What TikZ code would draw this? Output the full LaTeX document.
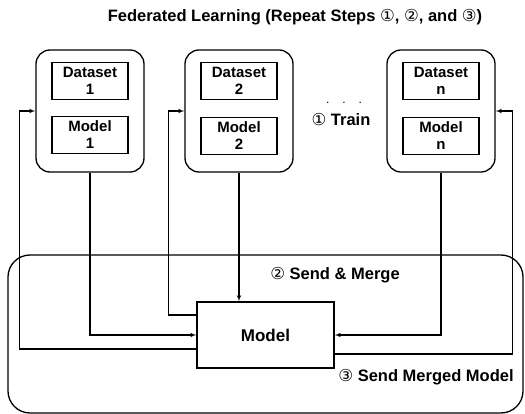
\documentclass[tikz,border=0pt]{standalone}
\usepackage{fontspec}
\setmainfont{Liberation Sans}
\newfontfamily\circfont{DejaVu Sans}
\usetikzlibrary{shapes, arrows}

\newcommand{\stepno}[1]{{\circfont\mdseries #1}}

\begin{document}
\begin{tikzpicture}[x=1pt, y=-1pt, font=\bfseries]

\tikzstyle{connector} = [draw, line width=1.1pt, -latex']
\tikzstyle{client} = [rectangle, draw, line width=1.3pt, rounded corners=14pt, minimum width=108pt, minimum height=122pt]
\tikzstyle{part} = [rectangle, draw, line width=1.2pt, text centered, align=center, minimum width=76pt, minimum height=37pt, inner sep=1pt, font=\bfseries\fontsize{15}{17}\selectfont]
\tikzstyle{server} = [rectangle, draw, line width=1.3pt, rounded corners=22pt, minimum width=515pt, minimum height=158pt]
\tikzstyle{merged} = [rectangle, draw, line width=1.2pt, text centered, minimum width=137pt, minimum height=66pt, font=\bfseries\fontsize{17}{20}\selectfont]
\tikzstyle{label} = [draw=none, font=\bfseries\fontsize{16.5}{19}\selectfont]

\useasboundingbox (0,0) rectangle (525,414);

\node [label] at (295,17) (title) {Federated Learning (Repeat Steps \stepno{①}, \stepno{②}, and \stepno{③})};

\node [client] at (90,111) (client1) {};
\node [part] at (90,81) (data1) {Dataset\\1};
\node [part] at (90,135) (model1) {Model\\1};

\node [client] at (239,111) (client2) {};
\node [part] at (239,81) (data2) {Dataset\\2};
\node [part] at (239,136) (model2) {Model\\2};

\node [client] at (441,111) (clientn) {};
\node [part] at (441,81) (datan) {Dataset\\n};
\node [part] at (441,136) (modeln) {Model\\n};

\node [draw=none, font=\fontsize{12}{14}\selectfont] at (344,103) (dots) {.\hspace{13pt}.\hspace{13pt}.};
\node [label] at (341,119) (train) {\stepno{①} Train};

\node [server] at (265.5,334) (server) {};
\node [merged] at (265.5,335) (model) {Model};

\node [label] at (335,275) (merge) {\stepno{②} Send \& Merge};
\node [label] at (426,377) (sendback) {\stepno{③} Send Merged Model};

\path [connector] (client1) |- (model);
\path [connector] (client2) -- (client2 |- model.north);
\path [connector] (clientn) |- (model);
\path [connector] ([yshift=20pt]model.west) -| ([xshift=-16pt]client2.west) -- (client2.west);
\path [connector] ([yshift=-14pt]model.west) -| ([xshift=-16pt]client1.west) -- (client1.west);
\path [connector] ([yshift=-19pt]model.east) -| ([xshift=17pt]clientn.east) -- (clientn.east);

\end{tikzpicture}
\end{document}
